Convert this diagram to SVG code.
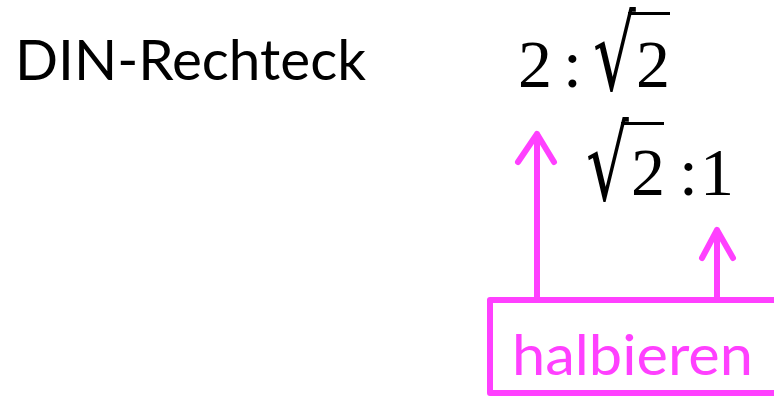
<svg xmlns="http://www.w3.org/2000/svg" width="774" height="398" viewBox="0 0 774 398">
<style>
.title{font-family:"Lato","Open Sans","Liberation Sans",sans-serif;font-size:56px;fill:#000}
.math{font-family:"Liberation Serif","DejaVu Serif",serif;font-size:68px;fill:#000}
.rad{font-family:"DejaVu Serif","Liberation Serif",serif;font-size:64px;fill:#000}
.bar{stroke:#000;stroke-width:3}
.mag{stroke:#ff40ff;stroke-width:6;fill:none;stroke-linecap:round;stroke-linejoin:round}
.lbl{font-family:"Lato","Open Sans","Liberation Sans",sans-serif;font-size:56px;fill:#ff40ff}
</style>
<rect width="774" height="398" fill="#fff"/>
<g id="title"><text class="title" x="15" y="80" textLength="351" lengthAdjust="spacingAndGlyphs">DIN-Rechteck</text></g>
<g id="expr1">
<text class="math" x="518" y="87">2</text>
<text class="math" x="563" y="87">:</text>
<text class="rad" transform="translate(593,90) scale(1.05,1.6)" x="0" y="0">√</text>
<line class="bar" x1="628" y1="13.5" x2="670" y2="13.5"/>
<text class="math" x="636" y="87">2</text>
</g>
<g id="expr2">
<text class="rad" transform="translate(586,200) scale(1.05,1.6)" x="0" y="0">√</text>
<line class="bar" x1="621" y1="123.5" x2="664" y2="123.5"/>
<text class="math" x="631" y="195">2</text>
<text class="math" x="679" y="195">:</text>
<text class="math" x="700" y="195">1</text>
</g>
<g id="halbieren">
<path class="mag" d="M800 393 H490 V300 H800"/>
<text class="lbl" x="512" y="375" textLength="241" lengthAdjust="spacingAndGlyphs">halbieren</text>
</g>
<g id="connectors">
<path class="mag" d="M537 300 V134 M518 162 L537 134 L554 162"/>
<path class="mag" d="M717 300 V230 M702 258 L717 230 L733 258"/>
</g>
</svg>
